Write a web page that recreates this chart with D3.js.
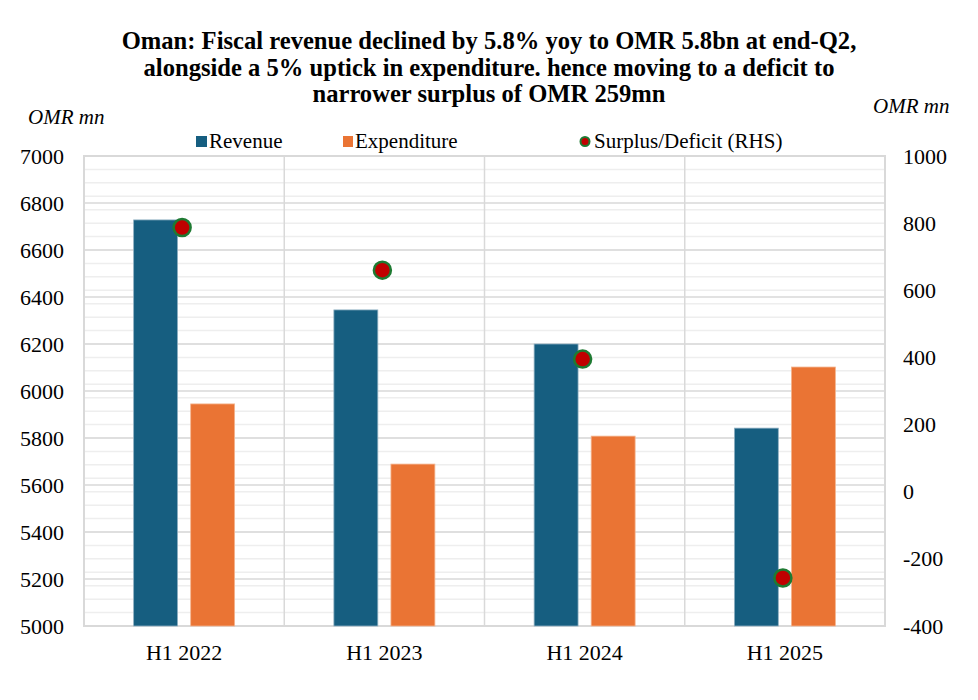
<!DOCTYPE html>
<html>
<head>
<meta charset="utf-8">
<script src="https://cdn.jsdelivr.net/npm/d3@7"></script>
<style>
  body { margin: 0; background: #fff; }
  svg text { font-family: "Liberation Serif", "Times New Roman", serif; fill: #000; }
</style>
</head>
<body>
<svg id="chart" width="978" height="700"></svg>
<script>
// data
var periods = ["H1 2022", "H1 2023", "H1 2024", "H1 2025"];
var revenue = [6728, 6345, 6200, 5842];
var expenditure = [5945, 5689, 5808, 6102];
var balance = [787, 660, 395, -257];
var leftTicks = [5000, 5200, 5400, 5600, 5800, 6000, 6200, 6400, 6600, 6800, 7000];
var rightTicks = [-400, -200, 0, 200, 400, 600, 800, 1000];
var titleLines = [
  "Oman: Fiscal revenue declined by 5.8% yoy to OMR 5.8bn at end-Q2,",
  "alongside a 5% uptick in expenditure. hence moving to a deficit to",
  "narrower surplus of OMR 259mn"
];

var svg = d3.select("#chart");
var pLeft = 84, pRight = 885, pTop = 156, pBottom = 626;

var x = d3.scaleBand().domain(periods).range([pLeft, pRight]).padding(0);
var xs = d3.scaleBand().domain(["Revenue", "Expenditure"])
  .range([0, x.bandwidth()]).paddingInner(0.23).paddingOuter(0.87);
var y = d3.scaleLinear().domain([5000, 7000]).range([pBottom, pTop]);
var y2 = d3.scaleLinear().domain([-400, 1000]).range([pBottom, pTop]);

// minor grid (right axis every 40)
svg.append("g").selectAll("line")
  .data(d3.range(-400, 1001, 40))
  .enter().append("line")
  .attr("x1", pLeft).attr("x2", pRight)
  .attr("y1", function(d) { return y2(d); }).attr("y2", function(d) { return y2(d); })
  .attr("stroke", "#eeeeee").attr("stroke-width", 1.5);

// major grid
svg.append("g").selectAll("line")
  .data(leftTicks)
  .enter().append("line")
  .attr("x1", pLeft).attr("x2", pRight)
  .attr("y1", function(d) { return y(d); }).attr("y2", function(d) { return y(d); })
  .attr("stroke", "#d9d9d9").attr("stroke-width", 1.5);

// vertical category separators
svg.append("g").selectAll("line")
  .data(periods.slice(1))
  .enter().append("line")
  .attr("x1", function(d) { return x(d); }).attr("x2", function(d) { return x(d); })
  .attr("y1", pTop).attr("y2", pBottom)
  .attr("stroke", "#d9d9d9").attr("stroke-width", 1.5);

svg.append("rect")
  .attr("x", pLeft).attr("y", pTop)
  .attr("width", pRight - pLeft).attr("height", pBottom - pTop)
  .attr("fill", "none").attr("stroke", "#d9d9d9").attr("stroke-width", 2);

// bars
var colors = { Revenue: "#165e80", Expenditure: "#ea7434" };
var edges = { Revenue: "#8fb0c2", Expenditure: "#f4b48e" };
[["Revenue", revenue], ["Expenditure", expenditure]].forEach(function(s) {
  svg.append("g").selectAll("rect")
    .data(s[1])
    .enter().append("rect")
    .attr("x", function(d, i) { return x(periods[i]) + xs(s[0]); })
    .attr("width", xs.bandwidth())
    .attr("y", function(d) { return y(d); })
    .attr("height", function(d) { return pBottom - y(d); })
    .attr("fill", colors[s[0]])
    .attr("stroke", edges[s[0]]).attr("stroke-width", 0.8);
});

// surplus/deficit points
svg.append("g").selectAll("circle")
  .data(balance)
  .enter().append("circle")
  .attr("cx", function(d, i) { return x(periods[i]) + x.bandwidth() / 2 - 2; })
  .attr("cy", function(d) { return y2(d); })
  .attr("r", 8.5)
  .attr("fill", "#c00000")
  .attr("stroke", "#1e7a32").attr("stroke-width", 2.5);

// axes (plain hyphen for negatives, like the original)
var plain = function(d) { return String(d); };
var yAxis = d3.axisLeft(y).tickValues(leftTicks).tickSize(0).tickPadding(20).tickFormat(plain);
var gy = svg.append("g").attr("transform", "translate(" + pLeft + ",0)").call(yAxis);
gy.select(".domain").remove();
gy.selectAll("text").style("font-size", "22px");

var y2Axis = d3.axisRight(y2).tickValues(rightTicks).tickSize(0).tickPadding(18).tickFormat(plain);
var gy2 = svg.append("g").attr("transform", "translate(" + pRight + ",0)").call(y2Axis);
gy2.select(".domain").remove();
gy2.selectAll("text").style("font-size", "22px");

var xAxis = d3.axisBottom(x).tickSize(0).tickPadding(18);
var gx = svg.append("g").attr("transform", "translate(0," + pBottom + ")").call(xAxis);
gx.select(".domain").remove();
gx.selectAll("text").style("font-size", "22px");

// axis titles
svg.append("text").attr("x", 28).attr("y", 124)
  .style("font-size", "21px").style("font-style", "italic").text("OMR mn");
svg.append("text").attr("x", 873).attr("y", 113)
  .style("font-size", "21px").style("font-style", "italic").text("OMR mn");

// title
svg.append("g").selectAll("text")
  .data(titleLines)
  .enter().append("text")
  .attr("x", 489)
  .attr("y", function(d, i) { return 49 + i * 26.5; })
  .attr("text-anchor", "middle")
  .style("font-size", "24.6px").style("font-weight", "bold")
  .text(function(d) { return d; });

// legend
var legend = svg.append("g");
legend.append("rect").attr("x", 196).attr("y", 136).attr("width", 11).attr("height", 11).attr("fill", colors.Revenue);
legend.append("text").attr("x", 209).attr("y", 148).style("font-size", "21px").text("Revenue");
legend.append("rect").attr("x", 343).attr("y", 136).attr("width", 10).attr("height", 11).attr("fill", colors.Expenditure);
legend.append("text").attr("x", 355).attr("y", 148).style("font-size", "21px").text("Expenditure");
legend.append("circle").attr("cx", 585).attr("cy", 141.5).attr("r", 4.5)
  .attr("fill", "#c00000").attr("stroke", "#1e7a32").attr("stroke-width", 2);
legend.append("text").attr("x", 594).attr("y", 148).style("font-size", "21px").text("Surplus/Deficit (RHS)");
</script>
</body>
</html>
